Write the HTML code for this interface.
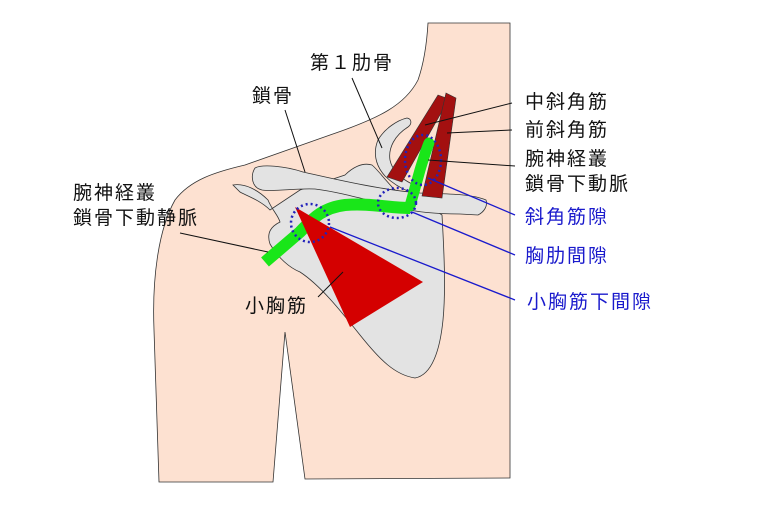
<!DOCTYPE html>
<html><head><meta charset="utf-8"><style>
body{margin:0;background:#fff}
svg text{font-family:"Liberation Sans","Noto Sans CJK JP",sans-serif;font-size:19px;letter-spacing:2px}
</style></head><body>
<svg width="758" height="505" viewBox="0 0 758 505" xmlns="http://www.w3.org/2000/svg">
<!-- body -->
<path d="M428,23 L510,23 L510,478 L305,479 L285,332 L273,482 L159,482 L154,330 C152,280 158,230 175,200 C190,180 215,172 245,165 L330,135 C380,118 405,105 418,80 C425,60 427,40 428,23 Z" fill="#fde1d1" stroke="#333" stroke-width="0.8"/>
<!-- scapula -->
<path d="M233,185 C245,183 258,190 268,200 C272,210 278,215 280,222 C272,226 266,232 270,244 C278,258 290,268 300,272 C320,285 340,310 360,335 C380,360 395,375 415,378 C432,375 440,350 443,320 C446,290 444,250 442,215 L420,200 L395,190 C385,180 378,170 372,165 C362,162 352,168 345,175 L300,190 L270,210 C260,200 245,195 240,192 Z" fill="#e3e3e3" stroke="#333" stroke-width="0.8"/>
<!-- first rib -->
<path d="M407,118 C398,120 385,128 378,140 C373,152 375,165 385,176 C392,183 400,188 410,192 L412,184 C400,178 392,170 390,160 C388,148 395,135 408,127 C412,124 412,119 407,118 Z" fill="#e3e3e3" stroke="#333" stroke-width="0.8"/>
<!-- clavicle -->
<path d="M255,168 C262,164 285,166 303,172 C330,178 380,190 420,193 C440,194 470,193 486,200 C488,206 484,212 478,215 L460,214 C440,214 420,213 400,208 C370,201 340,192 315,189 C295,188 275,192 262,190 C252,188 250,176 255,168 Z" fill="#e3e3e3" stroke="#333" stroke-width="0.8"/>
<!-- scalenes -->
<polygon points="438,95 449,99 402,182 387,177" fill="#a31010" stroke="#333" stroke-width="0.6"/>
<polygon points="446,93 456,98 442,198 422,196" fill="#a31010" stroke="#333" stroke-width="0.6"/>
<!-- nerve -->
<path d="M265,262 L300,232 C310,222 320,208 345,205 C370,203 390,208 410,208" fill="none" stroke="#19e619" stroke-width="12"/>
<path d="M410,206 L420,170 C423,160 426,150 429,143" fill="none" stroke="#19e619" stroke-width="11" stroke-linecap="round"/>
<!-- pec minor -->
<polygon points="295,207 423,282 350,327" fill="#d40000"/>
<!-- dotted circles -->
<g fill="none" stroke="#2222bb" stroke-width="2.5" stroke-dasharray="2,3">
<circle cx="310" cy="223" r="19"/>
<ellipse cx="397" cy="203" rx="19" ry="15"/>
<ellipse cx="423" cy="160" rx="18" ry="25"/>
</g>
<!-- blue leaders -->
<g stroke="#1a1acc" stroke-width="1.3">
<line x1="428" y1="178" x2="515" y2="215"/>
<line x1="412" y1="212" x2="515" y2="255"/>
<line x1="330" y1="227" x2="515" y2="300"/>
</g>
<!-- black leaders -->
<g stroke="#111" stroke-width="1">
<line x1="352" y1="78" x2="382" y2="148"/>
<line x1="285" y1="110" x2="305" y2="172"/>
<line x1="512" y1="103" x2="425" y2="125"/>
<line x1="512" y1="130" x2="447" y2="133"/>
<line x1="515" y1="166" x2="428" y2="160"/>
<line x1="180" y1="233" x2="268" y2="252"/>
<line x1="318" y1="297" x2="343" y2="272"/>
</g>
<!-- labels -->
<g fill="#111">
<text x="310" y="69">第１肋骨</text>
<text x="252" y="102">鎖骨</text>
<text x="525" y="108">中斜角筋</text>
<text x="525" y="136">前斜角筋</text>
<text x="525" y="165">腕神経叢</text>
<text x="525" y="190">鎖骨下動脈</text>
<text x="73" y="199">腕神経叢</text>
<text x="73" y="224">鎖骨下動静脈</text>
<text x="245" y="312">小胸筋</text>
</g>
<g fill="#1a1acc">
<text x="525" y="223">斜角筋隙</text>
<text x="525" y="262">胸肋間隙</text>
<text x="527" y="308">小胸筋下間隙</text>
</g>
</svg>
</body></html>
